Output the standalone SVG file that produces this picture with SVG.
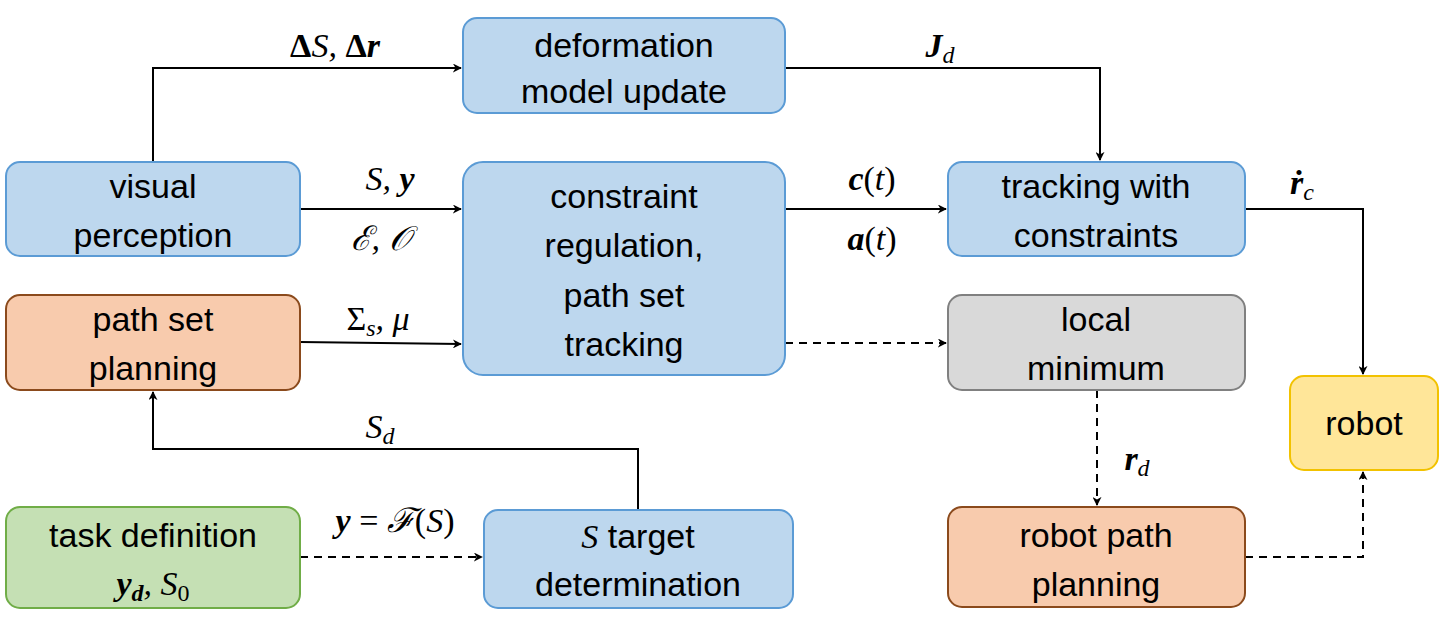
<svg xmlns="http://www.w3.org/2000/svg" width="1440" height="634" viewBox="0 0 1440 634">
<style>
.n{stroke-width:2}
.b{fill:#bdd7ee;stroke:#5b9bd5}
.o{fill:#f8cbad;stroke:#8b4a1c}
.g{fill:#d9d9d9;stroke:#808080}
.y{fill:#ffe699;stroke:#f2c200}
.gr{fill:#c5e0b4;stroke:#70ad47}
.t{font-family:"Liberation Sans",Arial,sans-serif;font-size:34px;fill:#000;text-anchor:middle}
.m{font-family:"Liberation Serif","DejaVu Serif",serif;font-size:34px;font-style:italic;fill:#000;text-anchor:middle}
.c{fill:none;stroke:#000;stroke-width:2;marker-end:url(#a)}
.d{stroke-dasharray:8 6}
</style>
<defs><marker id="a" viewBox="0 0 10 10" refX="9" refY="5" markerWidth="9" markerHeight="9" markerUnits="userSpaceOnUse" orient="auto"><path d="M0,0 L10,5 L0,10 L3,5 Z" fill="#000"/></marker></defs>
<g id="connectors">
<path class="c" d="M153,162 V68 H461"/>
<path class="c" d="M785,68 H1100 V160"/>
<path class="c" d="M300,209 H461"/>
<path class="c" d="M785,209 H946"/>
<path class="c" d="M1245,209 H1363 V374"/>
<path class="c" d="M300,342 L461,344"/>
<path class="c d" d="M785,343 H946"/>
<path class="c d" d="M1097,390 V505"/>
<path class="c d" d="M1245,557 H1363 V472"/>
<path class="c d" d="M300,557 H482"/>
<path class="c" d="M638,510 V449 H153 V392"/>
</g>
<g id="labels">
<text class="m" x="335" y="57"><tspan font-weight="bold" font-style="normal">Δ</tspan>S, <tspan font-weight="bold" font-style="normal">Δ</tspan><tspan font-weight="bold">r</tspan></text>
<text class="m" x="940" y="57"><tspan font-weight="bold">J</tspan><tspan font-size="24" dy="6">d</tspan></text>
<text class="m" x="390" y="190">S, <tspan font-weight="bold">y</tspan></text>
<text class="m" x="380" y="250">ℰ, 𝒪</text>
<text class="m" x="872" y="190"><tspan font-weight="bold">c</tspan><tspan font-style="normal">(</tspan>t<tspan font-style="normal">)</tspan></text>
<text class="m" x="872" y="250"><tspan font-weight="bold">a</tspan><tspan font-style="normal">(</tspan>t<tspan font-style="normal">)</tspan></text>
<text class="m" x="1302" y="194"><tspan font-weight="bold">ṙ</tspan><tspan font-size="24" dy="6">c</tspan></text>
<text class="m" x="378" y="330"><tspan font-style="normal">Σ</tspan><tspan font-size="24" dy="6">s</tspan><tspan dy="-6">, μ</tspan></text>
<text class="m" x="380" y="438">S<tspan font-size="24" dy="6">d</tspan></text>
<text class="m" x="1137" y="470"><tspan font-weight="bold">r</tspan><tspan font-size="24" dy="6">d</tspan></text>
<text class="m" x="395" y="532"><tspan font-weight="bold">y</tspan><tspan font-style="normal"> = </tspan>ℱ<tspan font-style="normal">(</tspan>S<tspan font-style="normal">)</tspan></text>
</g>
<g id="deform"><rect class="n b" x="463" y="18" width="322" height="95" rx="14"/><text class="t" x="624" y="57">deformation</text><text class="t" x="624" y="103">model update</text></g>
<g id="visual"><rect class="n b" x="6" y="162" width="294" height="94" rx="14"/><text class="t" x="153" y="198">visual</text><text class="t" x="153" y="247">perception</text></g>
<g id="constraint"><rect class="n b" x="463" y="162" width="322" height="213" rx="20"/><text class="t" x="624" y="208">constraint</text><text class="t" x="624" y="257">regulation,</text><text class="t" x="624" y="307">path set</text><text class="t" x="624" y="356">tracking</text></g>
<g id="tracking"><rect class="n b" x="948" y="162" width="297" height="94" rx="14"/><text class="t" x="1096" y="198">tracking with</text><text class="t" x="1096" y="247">constraints</text></g>
<g id="pathset"><rect class="n o" x="6" y="295" width="294" height="95" rx="14"/><text class="t" x="153" y="331">path set</text><text class="t" x="153" y="380">planning</text></g>
<g id="localmin"><rect class="n g" x="948" y="295" width="297" height="95" rx="14"/><text class="t" x="1096" y="331">local</text><text class="t" x="1096" y="380">minimum</text></g>
<g id="robot"><rect class="n y" x="1290" y="376" width="148" height="94" rx="14"/><text class="t" x="1364" y="435">robot</text></g>
<g id="task"><rect class="n gr" x="6" y="507" width="294" height="101" rx="14"/><text class="t" x="153" y="547">task definition</text><text class="m" x="153" y="595" text-anchor="middle"><tspan font-weight="bold">y</tspan><tspan font-weight="bold" font-size="24" dy="6">d</tspan><tspan dy="-6">, S</tspan><tspan font-style="normal" font-size="24" dy="6">0</tspan></text></g>
<g id="target"><rect class="n b" x="484" y="510" width="309" height="98" rx="14"/><text class="t" x="638" y="548"><tspan class="m" font-family="Liberation Serif,serif" font-style="italic">S</tspan> target</text><text class="t" x="638" y="596">determination</text></g>
<g id="robotpath"><rect class="n o" x="948" y="507" width="297" height="100" rx="14"/><text class="t" x="1096" y="547">robot path</text><text class="t" x="1096" y="596">planning</text></g>
</svg>
